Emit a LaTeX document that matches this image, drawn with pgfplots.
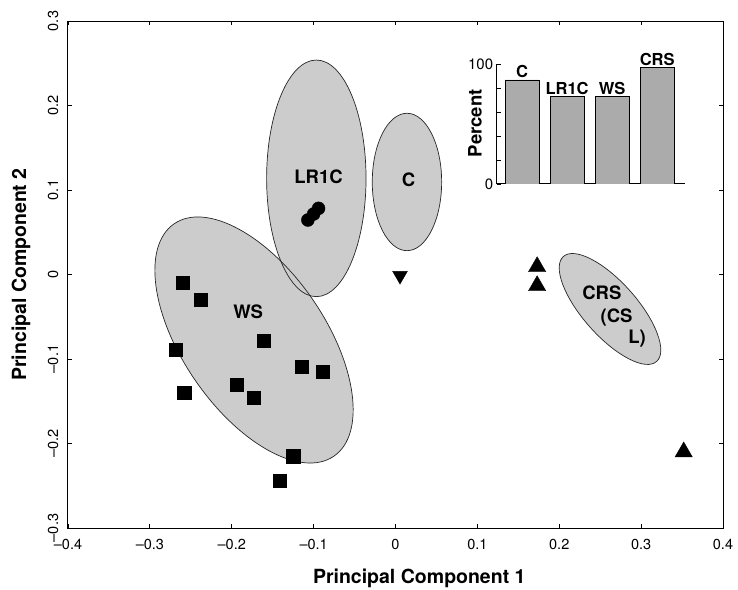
\documentclass[border=0pt]{standalone}
\usepackage{fontspec}
\setmainfont{TeX Gyre Heros}
\usepackage{pgfplots}
\pgfplotsset{compat=1.18}

\newcommand\tickfont{\fontsize{14.5}{16}\selectfont}
\newcommand\labfont{\bfseries\fontsize{19.5}{21}\selectfont}
\newcommand\grpfont{\bfseries\fontsize{18.5}{20}\selectfont}

\begin{document}
\begin{tikzpicture}
\useasboundingbox (-68pt,-61pt) rectangle (670pt,528pt);
\begin{axis}[
  name=main,
  scale only axis,
  width=655pt, height=507pt,
  xmin=-0.4, xmax=0.4, ymin=-0.3, ymax=0.3,
  xtick={-0.4,-0.3,-0.2,-0.1,0,0.1,0.2,0.3,0.4},
  xticklabels={–0.4,–0.3,–0.2,–0.1,0,0.1,0.2,0.3,0.4},
  ytick={-0.3,-0.2,-0.1,0,0.1,0.2,0.3},
  yticklabels={–0.3,–0.2,–0.1,0,0.1,0.2,0.3},
  xtick pos=both, ytick pos=both,
  tick align=inside,
  major tick length=4pt,
  tick style={black, line width=0.8pt},
  axis line style={line width=1pt},
  ticklabel style={font=\tickfont},
  yticklabel style={rotate=90, anchor=south},
  xticklabel shift=8pt,
  yticklabel shift=6pt,
  xlabel={Principal Component 1},
  ylabel={Principal Component 2},
  xlabel style={font=\labfont, at={(axis description cs:0.5363,-0.1085)}, anchor=base},
  ylabel style={font=\labfont, at={(axis description cs:-0.0641,0.5)}, anchor=base},
]
% group ellipses: fills first, outlines after so every edge stays visible
\fill[black!20, rotate around={-55.5:(axis cs:-0.1728,-0.0775)}] (axis cs:-0.1728,-0.0775) ellipse [x radius=141pt, y radius=71.3pt];
\fill[black!20] (axis cs:-0.0967,0.1138) ellipse [x radius=49.7pt, y radius=118.3pt];
\fill[black!20] (axis cs:0.014,0.1095) ellipse [x radius=34.7pt, y radius=68.7pt];
\fill[black!20, rotate around={-48.4:(axis cs:0.262,-0.0408)}] (axis cs:0.262,-0.0408) ellipse [x radius=70.2pt, y radius=27pt];
\draw[black!85, line width=0.7pt, rotate around={-55.5:(axis cs:-0.1728,-0.0775)}] (axis cs:-0.1728,-0.0775) ellipse [x radius=141pt, y radius=71.3pt];
\draw[black!85, line width=0.7pt] (axis cs:-0.0967,0.1138) ellipse [x radius=49.7pt, y radius=118.3pt];
\draw[black!85, line width=0.7pt] (axis cs:0.014,0.1095) ellipse [x radius=34.7pt, y radius=68.7pt];
\draw[black!85, line width=0.7pt, rotate around={-48.4:(axis cs:0.262,-0.0408)}] (axis cs:0.262,-0.0408) ellipse [x radius=70.2pt, y radius=27pt];

\node[font=\grpfont] at (axis cs:-0.094,0.1157) {LR1C};
\node[font=\grpfont] at (axis cs:0.016,0.112) {C};
\node[font=\grpfont] at (axis cs:-0.180,-0.044) {WS};
\node[font=\grpfont] at (axis cs:0.252,-0.022) {CRS};
\node[font=\grpfont] at (axis cs:0.270,-0.051) {(CS};
\node[font=\grpfont] at (axis cs:0.295,-0.0755) {L)};

% WS
\addplot[only marks, mark=square*, mark size=6.6pt, black] coordinates {
  (-0.260,-0.010) (-0.238,-0.030) (-0.161,-0.078) (-0.268,-0.089)
  (-0.115,-0.109) (-0.089,-0.115) (-0.194,-0.130) (-0.258,-0.140)
  (-0.173,-0.146) (-0.125,-0.215) (-0.141,-0.244)
};
% LR1C
\addplot[only marks, mark=*, mark size=6.5pt, black] coordinates {
  (-0.107,0.0645) (-0.100,0.0716) (-0.094,0.0783)
};
% C
\addplot[only marks, mark=triangle*, mark size=8.5pt, black, mark options={rotate=180}] coordinates {
  (0.0055,-0.0013)
};
% CRS
\addplot[only marks, mark=triangle*, mark size=10pt, black] coordinates {
  (0.173,0.0092) (0.173,-0.0133) (0.352,-0.210)
};
\end{axis}

\begin{axis}[
  at={(428.7pt,344pt)}, anchor=south west,
  scale only axis,
  width=188.3pt, height=120pt,
  xmin=-0.562, xmax=3.616, ymin=0, ymax=100,
  axis x line=bottom, axis y line=left,
  axis line style={-, line width=1pt},
  xtick=\empty,
  ytick={0,20,40,60,80,100},
  yticklabels={0,,,,,100},
  tick align=inside,
  major tick length=4pt,
  tick style={black, line width=0.8pt},
  ticklabel style={font=\fontsize{15}{16}\selectfont},
  ylabel={Percent},
  ylabel style={font=\grpfont, at={(axis description cs:-0.115,0.506)}, anchor=center},
  ybar, bar width=34pt,
  point meta=explicit symbolic,
  nodes near coords,
  nodes near coords style={font=\bfseries\fontsize{16.5}{18}\selectfont, inner sep=1.5pt},
]
\addplot[fill=black!33, draw=black, line width=0.6pt] coordinates {
  (0,86.7) [C] (1,72.8) [LR1C] (2,72.8) [WS] (3,97) [CRS]
};
\end{axis}
\end{tikzpicture}
\end{document}
